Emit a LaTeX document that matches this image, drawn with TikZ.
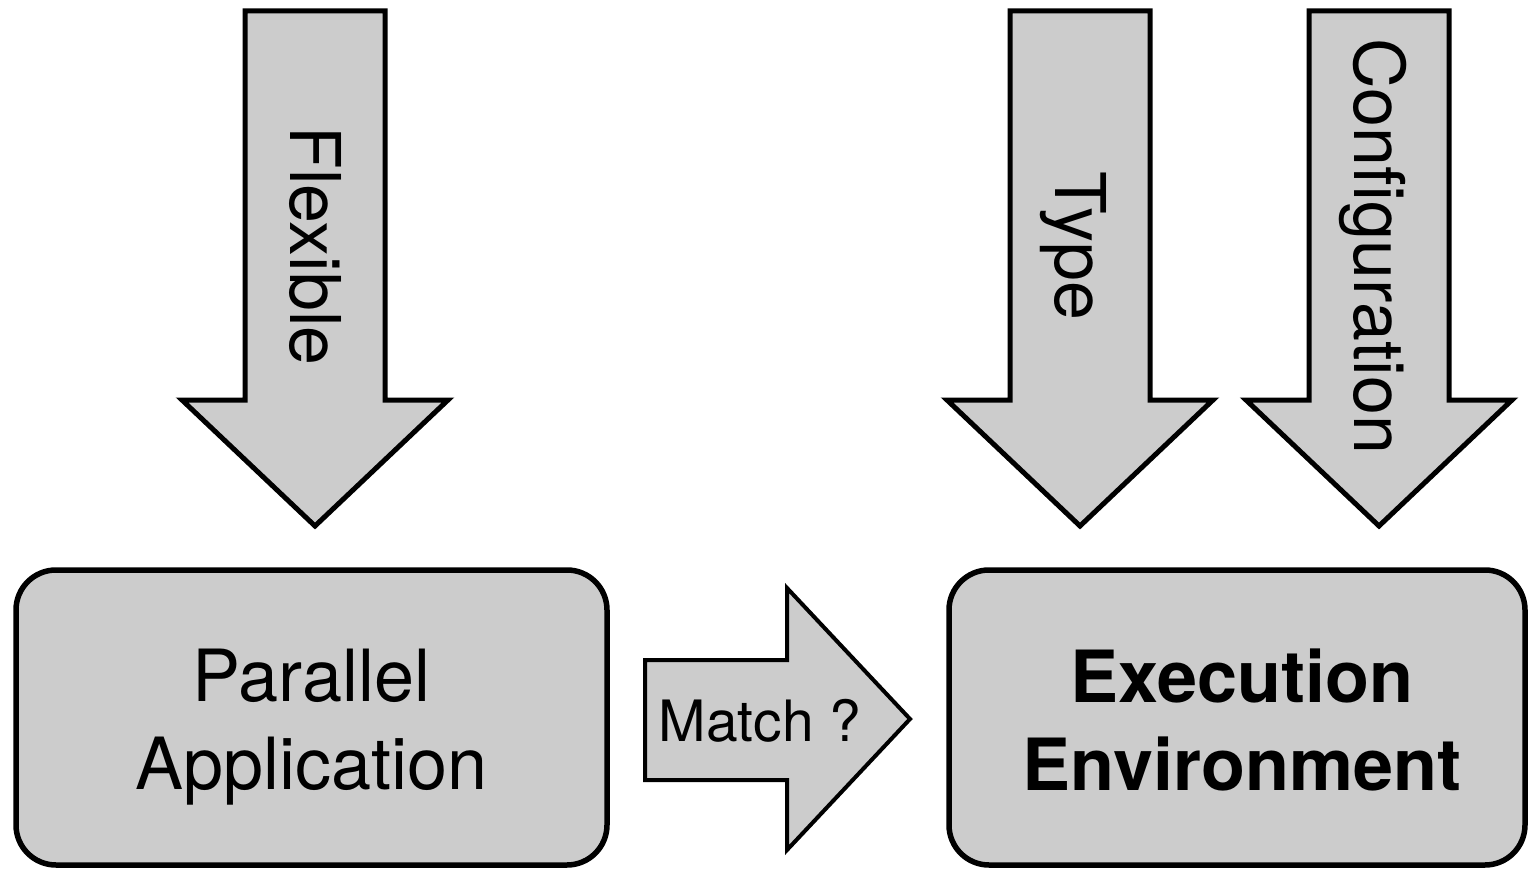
\documentclass[tikz,border=0pt]{standalone}
\usepackage{fontspec}
\setmainfont{TeX Gyre Heros}
\usetikzlibrary{positioning}
\definecolor{boxgray}{RGB}{204,204,204}

\begin{document}
\begin{tikzpicture}[x=1pt,y=-1pt,
    box/.style={draw,fill=boxgray,line width=5.5pt,rounded corners=40pt,minimum width=591pt,minimum height=295pt},
    blockarrow/.style={draw,fill=boxgray,line width=5pt,line join=miter},
    vlabel/.style={rotate=-90,inner sep=0pt,text height=50pt,text depth=0pt,font=\fontsize{70}{84}\selectfont},
    boxtext/.style={align=center,inner sep=0pt,font=\fontsize{72}{88}\selectfont}]
  \useasboundingbox (0,0) rectangle (1529,872);
  % boxes
  \node[box] (app) at (311.5,717.5) {};
  \node[box,minimum width=576pt] (env) at (1237,717.5) {};
  \node[boxtext] (apptext) at (311.5,727.5) {Parallel\\Application};
  \node[boxtext,font=\fontsize{72}{88}\selectfont\bfseries] (envtext) at (1242,720) {Execution\\Environment};
  % down arrows
  \foreach \cx/\nm/\lbl in {315/flex/Flexible,1080/type/Type,1379/conf/Configuration}{
    \draw[blockarrow] (\cx-70,11) -- (\cx+70,11) -- (\cx+70,400) -- (\cx+133,400) -- (\cx,526)
      -- (\cx-133,400) -- (\cx-70,400) -- cycle;
    \node[vlabel] (\nm) at (\cx,246) {\lbl};
  }
  % match arrow
  \draw[blockarrow,line width=4pt] (645,660) -- (787,660) -- (787,588) -- (910,719) -- (787,850)
    -- (787,780) -- (645,780) -- cycle;
  \node[font=\fontsize{57}{68}\selectfont,inner sep=0pt] (match) at (760,721) {Match ?};
\end{tikzpicture}
\end{document}
